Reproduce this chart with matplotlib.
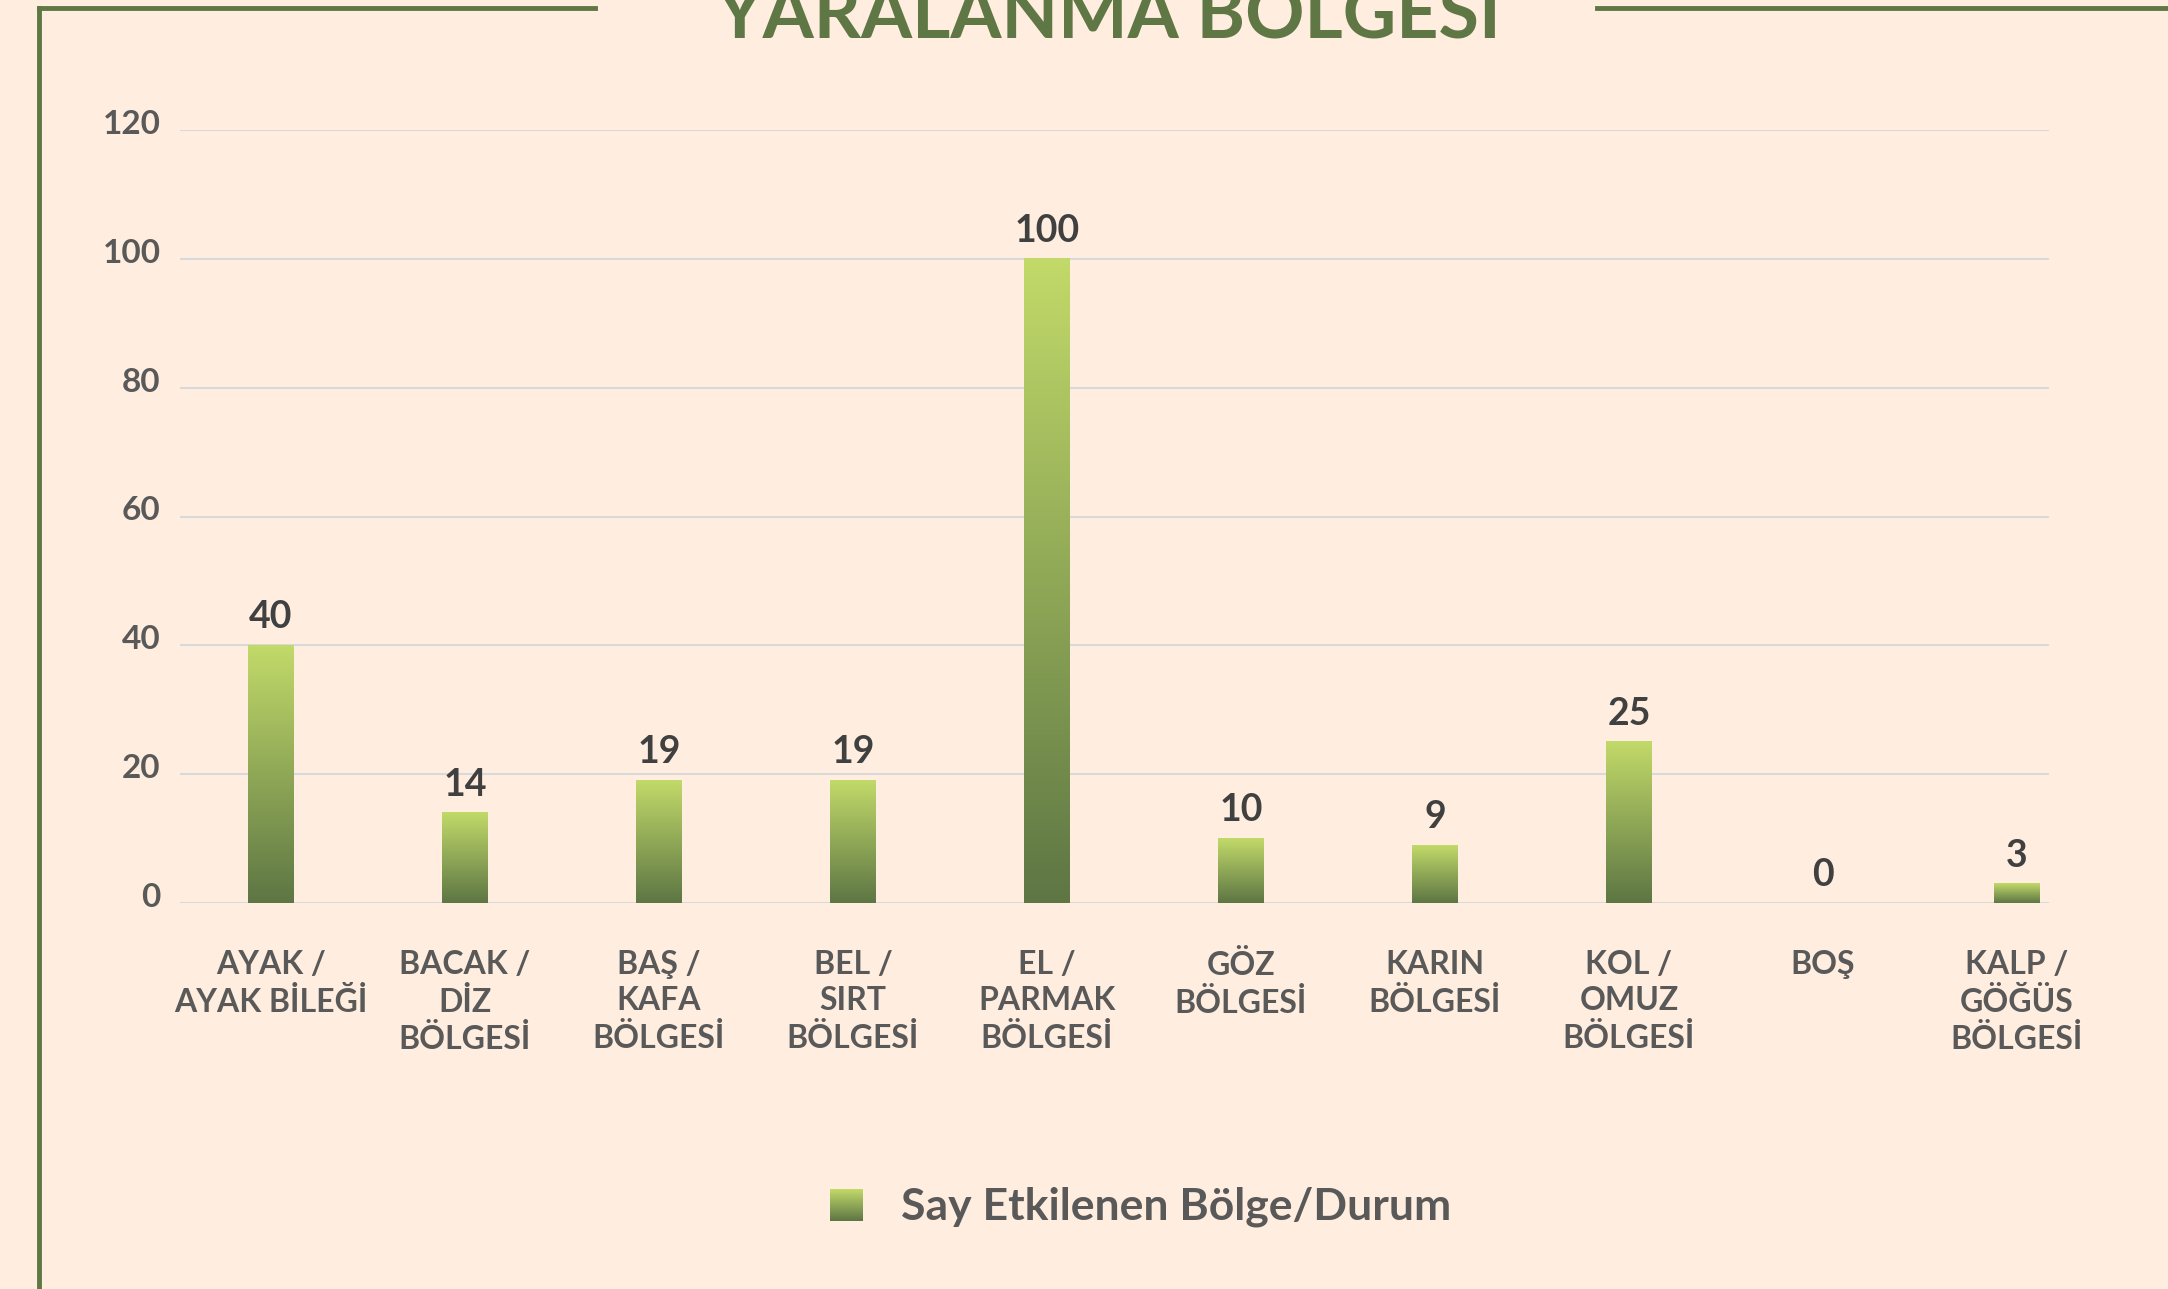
import numpy as np
import matplotlib.pyplot as plt
import matplotlib.transforms as mtransforms
from matplotlib.colors import LinearSegmentedColormap
from matplotlib.lines import Line2D

# data
categories = ["AYAK /\nAYAK BİLEĞİ", "BACAK /\nDİZ\nBÖLGESİ", "BAŞ /\nKAFA\nBÖLGESİ",
              "BEL /\nSIRT\nBÖLGESİ", "EL /\nPARMAK\nBÖLGESİ", "GÖZ\nBÖLGESİ",
              "KARIN\nBÖLGESİ", "KOL /\nOMUZ\nBÖLGESİ", "BOŞ",
              "KALP /\nGÖĞÜS\nBÖLGESİ"]
values = [40, 14, 19, 19, 100, 10, 9, 25, 0, 3]
yticks = [0, 20, 40, 60, 80, 100, 120]
title = "YARALANMA BÖLGESİ"
legend_label = "Say Etkilenen Bölge/Durum"

bg = "#FFEEDF"
frame_green = "#5E7744"
grad = LinearSegmentedColormap.from_list("g", ["#5D7644", "#C2DA69"])
gradient = np.linspace(0, 1, 256).reshape(-1, 1)

plt.rcParams['font.family'] = ['Lato', 'DejaVu Sans']
plt.rcParams['font.weight'] = 'bold'

W, H = 2168, 1289
fig = plt.figure(figsize=(W / 100, H / 100), dpi=100, facecolor=bg)
ax = fig.add_axes([180 / W, 1 - 903 / H, (2049 - 180) / W, (903 - 130) / H])
ax.set_facecolor(bg)

x = np.arange(len(values))
bars = ax.bar(x, values, width=0.237, color='none', edgecolor='none')
for b, v in zip(bars, values):
    if v > 0:
        x0, w = b.get_x(), b.get_width()
        ax.imshow(gradient, cmap=grad, origin='lower', aspect='auto',
                  extent=(x0, x0 + w, 0, v), zorder=3)
    ax.annotate(str(v), (b.get_x() + b.get_width() / 2, v), xytext=(0, 8),
                textcoords='offset points', ha='center', va='bottom',
                fontsize=27, color='#404040', fontweight='bold')

ax.set_xlim(-0.469, 9.165)
ax.set_ylim(0, 120)
ax.set_yticks(yticks)
ax.set_xticks(x, categories)
ax.tick_params(axis='y', length=0, pad=14, labelsize=24, labelcolor='#595959')
ax.tick_params(axis='x', length=0, pad=34, labelsize=23, labelcolor='#595959')
for lbl in ax.get_xticklabels():
    lbl.set_linespacing(1.3)
up = mtransforms.ScaledTranslation(0, 8 / 100, fig.dpi_scale_trans)
for lbl in ax.get_yticklabels():
    lbl.set_transform(lbl.get_transform() + up)
ax.yaxis.grid(True, color='#D9D9DC', linewidth=1.5)
ax.set_axisbelow(True)
for s in ax.spines.values():
    s.set_visible(False)

# legend
lax = fig.add_axes([830 / W, 1 - 1221 / H, 33 / W, 32 / H])
lax.imshow(gradient, cmap=grad, origin='lower', aspect='auto')
lax.axis('off')
fig.text(901 / W, 1 - 1207 / H, legend_label, ha='left', va='center',
         fontsize=32, color='#595959', fontweight='bold')

# title (cut at the top edge) and frame
fig.text(1108 / W, 1 - 37 / H, title, ha='center', va='baseline',
         fontsize=53, color=frame_green, fontweight='bold')
for xs, ys in [([39 / W, 39 / W], [0, 1 - 8 / H]),
               ([39 / W, 595 / W], [1 - 8 / H, 1 - 8 / H]),
               ([1597 / W, 1], [1 - 8 / H, 1 - 8 / H])]:
    fig.add_artist(Line2D(xs, ys, color=frame_green, linewidth=3.5,
                          solid_capstyle='projecting', transform=fig.transFigure))

fig.savefig('out.png', dpi=100, facecolor=bg)
